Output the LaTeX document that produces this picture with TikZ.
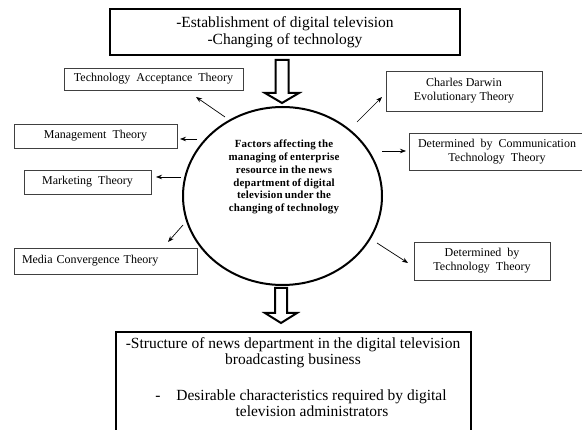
\documentclass[tikz,border=0pt]{standalone}
\usepackage{fontspec}
\setmainfont{Liberation Serif}
\newfontfamily\widefont[WordSpace=2]{Liberation Serif}
\newfontfamily\spacedfont[LetterSpace=2,WordSpace=0.8]{Liberation Serif}
\usetikzlibrary{shapes.geometric,arrows.meta}
\tikzset{
  bigbox/.style={draw, line width=2.4pt, inner sep=0pt, align=center},
  smallbox/.style={draw=black!75, line width=0.8pt, inner sep=0pt, align=center,
    font=\widefont\fontsize{12}{14}\selectfont},
  thinarrow/.style={-{Stealth[length=6pt,width=4.5pt]}, line width=0.7pt},
  hollow/.style={draw, line width=2pt, fill=white, line join=miter},
  bigtext/.style={inner sep=0pt, anchor=base, font=\fontsize{15.5}{17}\selectfont},
}
\begin{document}
\begin{tikzpicture}[x=1pt,y=-1pt]
\clip (0,0) rectangle (582,430);
\fill[white] (0,0) rectangle (582,430);

% top box
\node[bigbox, minimum width=350, minimum height=46, font=\fontsize{15.5}{17}\selectfont] (top) at (285,32)
  {-Establishment of digital television\\-Changing of technology};

% central ellipse
\node[ellipse, draw, line width=2pt, minimum width=199, minimum height=178, inner sep=0pt] (c) at (282.5,196) {};
\node[align=center, inner sep=0pt, font=\spacedfont\bfseries\fontsize{10.9}{12.8}\selectfont] (ctext) at (284,177)
  {Factors affecting the\\managing of enterprise\\resource in the news\\department of digital\\television under the\\changing of technology};

% theory boxes
\node[smallbox, minimum width=179, minimum height=22] (ta) at (153.5,79) {Technology Acceptance Theory};
\node[smallbox, minimum width=156, minimum height=40, font=\fontsize{12}{14}\selectfont] (cd) at (464,91) {Charles Darwin\\Evolutionary Theory};
\node[smallbox, minimum width=163, minimum height=24] (mg) at (95.5,136) {Management Theory};
\node[smallbox, minimum width=176, minimum height=37] (ct) at (497,151.5) {Determined by Communication\\Technology Theory};
\node[smallbox, minimum width=127, minimum height=24] (mk) at (87.5,182) {Marketing Theory};
\node[smallbox, minimum width=183, minimum height=26, text width=167pt, inner xsep=8pt, align=left] (mc) at (105.5,261) {Media Convergence Theory};
\node[smallbox, minimum width=136, minimum height=38] (tt) at (482,261) {Determined by\\Technology Theory};

% bottom box
\node[draw, line width=2.4pt, minimum width=355, minimum height=120, inner sep=0pt, anchor=north] (bot) at (293.5,331) {};
\node[bigtext] (b1) at (293,349) {-Structure of news department in the digital television};
\node[bigtext] (b2) at (293,365) {broadcasting business};
\node[bigtext] (b3d) at (158,401) {-};
\node[bigtext] (b3) at (311.5,401) {Desirable characteristics required by digital};
\node[bigtext] (b4) at (312,417) {television administrators};

% hollow arrows
\coordinate (h1) at (282,60);
\coordinate (h2) at (281,288);
\draw[hollow] (h1) ++(-6.5,0) -- ++(0,33) -- ++(-10.5,0) -- ++(17,10) -- ++(17,-10) -- ++(-10.5,0) -- ++(0,-33) -- cycle;
\draw[hollow] (h2) ++(-6,0) -- ++(0,25) -- ++(-10,0) -- ++(16,10) -- ++(16,-10) -- ++(-10,0) -- ++(0,-25) -- cycle;

% thin arrows
\coordinate (taS) at (225,117); \coordinate (taE) at (196,97);
\coordinate (mgS) at (197,139); \coordinate (mgE) at (180,139);
\coordinate (mkS) at (181,177); \coordinate (mkE) at (156,177);
\coordinate (mcS) at (183,225); \coordinate (mcE) at (168,242);
\coordinate (cdS) at (357,122); \coordinate (cdE) at (382,97);
\coordinate (ctS) at (382,151); \coordinate (ctE) at (406,151);
\coordinate (ttS) at (377,243); \coordinate (ttE) at (408,263);
\draw[thinarrow] (taS) -- (taE);
\draw[thinarrow] (mgS) -- (mgE);
\draw[thinarrow] (mkS) -- (mkE);
\draw[thinarrow] (mcS) -- (mcE);
\draw[thinarrow] (cdS) -- (cdE);
\draw[thinarrow] (ctS) -- (ctE);
\draw[thinarrow] (ttS) -- (ttE);
\end{tikzpicture}
\end{document}
